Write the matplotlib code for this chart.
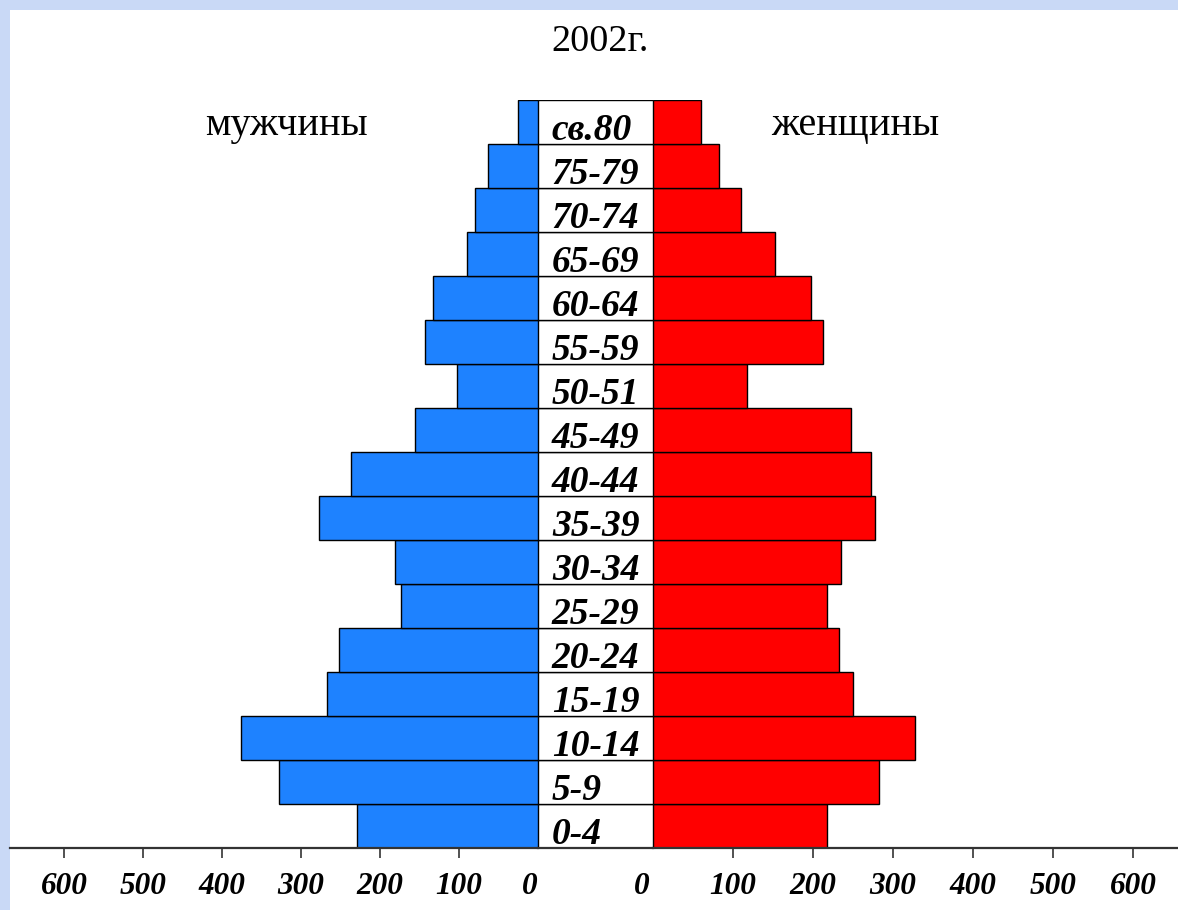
import matplotlib
matplotlib.use("Agg")
import matplotlib.pyplot as plt
import matplotlib.transforms as mtransforms
from matplotlib.patches import Rectangle

# ---------------- data ----------------
age_groups = ["0-4", "5-9", "10-14", "15-19", "20-24", "25-29", "30-34", "35-39",
              "40-44", "45-49", "50-51", "55-59", "60-64", "65-69", "70-74",
              "75-79", "св.80"]
men = [229, 328, 376, 267, 252, 173, 181, 277, 237, 156, 103, 143, 133, 90, 80, 63, 25]
women = [218, 283, 328, 250, 233, 218, 235, 278, 273, 248, 118, 213, 198, 153, 110, 83, 60]
tick_values = [0, 100, 200, 300, 400, 500, 600]
tick_labels = ["0", "100", "200", "300", "400", "500", "600"]
title = "2002г."
men_label = "мужчины"
women_label = "женщины"

# ---------------- layout ----------------
W, H = 1178, 910
fig = plt.figure(figsize=(W / 100, H / 100), dpi=100)
fig.patch.set_facecolor("#c9d9f6")
fig.patches.append(Rectangle((10 / W, 0), 1 - 10 / W, 1 - 10 / H,
                             transform=fig.transFigure, facecolor="white",
                             edgecolor="none", zorder=-10))

BLUE = "#1e82ff"
RED = "#ff0000"
SERIF = "Liberation Serif"

y_bot, y_top = 848, 100
bottom = (H - y_bot) / H
height = (y_bot - y_top) / H
xl0, xl1 = 10, 538
xr0, xr1 = 653, 1178
scale_l = 0.79
scale_r = 0.80

ax_l = fig.add_axes([xl0 / W, bottom, (xl1 - xl0) / W, height])
ax_m = fig.add_axes([xl1 / W, bottom, (xr0 - xl1) / W, height])
ax_r = fig.add_axes([xr0 / W, bottom, (xr1 - xr0) / W, height])

ypos = list(range(len(age_groups)))
ax_l.barh(ypos, men, height=1.0, color=BLUE, edgecolor="black", linewidth=1.0)
ax_r.barh(ypos, women, height=1.0, color=RED, edgecolor="black", linewidth=1.0)
ax_m.barh(ypos, [1] * len(ypos), height=1.0, color="white", edgecolor="black", linewidth=1.0)

ax_l.set_xlim((xl1 - xl0) / scale_l, 0)
ax_r.set_xlim(0, (xr1 - xr0) / scale_r)
ax_m.set_xlim(0, 1)
for ax in (ax_l, ax_m, ax_r):
    ax.set_ylim(-0.5, len(ypos) - 0.5)
    ax.set_facecolor("none")
    for s in ("top", "left", "right"):
        ax.spines[s].set_visible(False)
    ax.spines["bottom"].set_linewidth(1.6)
    ax.spines["bottom"].set_color("#333333")
    ax.spines["bottom"].set_zorder(5)
    ax.set_yticks([])

ax_m.set_xticks([])

for ax in (ax_l, ax_r):
    ax.set_xticks(tick_values)
    ax.set_xticklabels(tick_labels, fontfamily=SERIF, fontweight="bold",
                       fontstyle="italic", fontsize=22.5)
    ax.tick_params(axis="x", direction="out", length=7.5, width=1.2,
                   color="#333333", pad=10)
    ax.xaxis.get_major_ticks()[0].tick1line.set_visible(False)

# shift the "0" labels slightly left as in the reference
for ax, dx in ((ax_l, -8), (ax_r, -11)):
    lab = ax.xaxis.get_major_ticks()[0].label1
    lab.set_transform(lab.get_transform() +
                      mtransforms.ScaledTranslation(dx / 100, 0, fig.dpi_scale_trans))

# age labels in the middle column
for y, lab in zip(ypos, age_groups):
    ax_m.text(0.12, y - 0.5 + 0.10, lab, fontfamily=SERIF, fontweight="bold",
              fontstyle="italic", fontsize=27, ha="left", va="baseline", zorder=6)

fig.text(600 / W, 1 - 42 / H, title, fontfamily=SERIF, fontsize=27.5,
         ha="center", va="center")
fig.text(287 / W, 1 - 126 / H, men_label, fontfamily=SERIF, fontsize=29,
         ha="center", va="center")
fig.text(855 / W, 1 - 126 / H, women_label, fontfamily=SERIF, fontsize=29,
         ha="center", va="center")

fig.savefig("out.png", dpi=100, facecolor=fig.get_facecolor())
